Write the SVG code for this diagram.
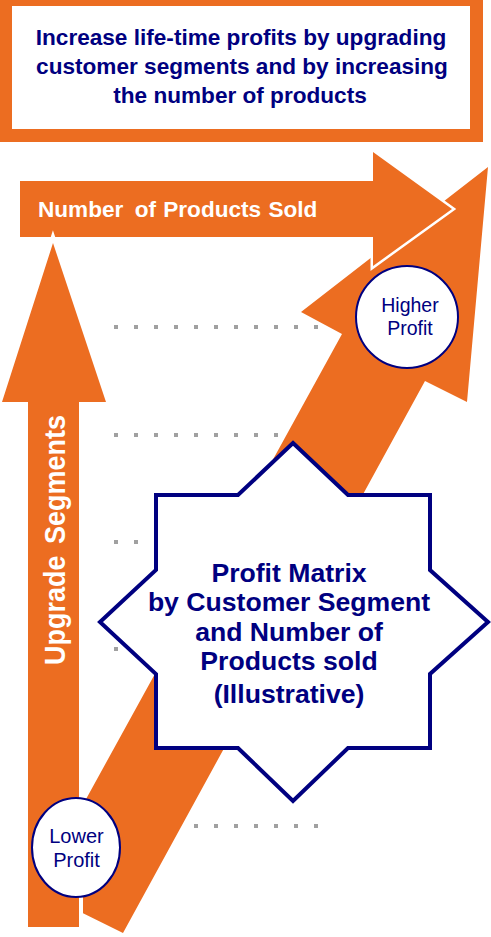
<svg xmlns="http://www.w3.org/2000/svg" width="491" height="937" viewBox="0 0 491 937">
<style>
.orange{fill:#EC6D21}
.arrow{fill:#EC6D21;stroke:#FFFFFF;paint-order:stroke;stroke-linejoin:miter}
.navyb{font-family:"Liberation Sans",Arial,sans-serif;font-weight:bold;fill:#000080;text-anchor:middle}
.navy{font-family:"Liberation Sans",Arial,sans-serif;fill:#000080;text-anchor:middle}
.whiteb{font-family:"Liberation Sans",Arial,sans-serif;font-weight:bold;fill:#FFFFFF}
.dots{stroke:#A0A0A0;stroke-width:4;stroke-dasharray:4 16;fill:none}
.bubble{fill:#FFFFFF;stroke:#000080;stroke-width:2}
</style>
<rect width="491" height="937" fill="#FFFFFF"/>
<g id="title">
<rect x="0" y="0" width="483" height="142" class="orange"/>
<rect x="12" y="6" width="458" height="123" fill="#FFFFFF"/>
<text class="navyb" font-size="22.6" x="241" y="45">Increase life-time profits by upgrading</text>
<text class="navyb" font-size="22.6" x="242" y="74">customer segments and by increasing</text>
<text class="navyb" font-size="22.6" x="240" y="103">the number of products</text>
</g>
<g id="gridlines">
<line class="dots" x1="114" y1="327" x2="318" y2="327"/>
<line class="dots" x1="114" y1="435" x2="318" y2="435"/>
<line class="dots" x1="114" y1="542" x2="318" y2="542"/>
<line class="dots" x1="114" y1="649" x2="318" y2="649"/>
<line class="dots" x1="114" y1="826" x2="318" y2="826"/>
</g>
<g id="profit-arrow">
<polygon class="orange" points="488,167 467,402 425,381 123,933 36,890 342,334 301,312"/>
</g>
<g id="products-arrow">
<polygon class="arrow" stroke-width="5" points="20,181 373,181 373,152 452,209 373,266 373,237 20,237"/>
<text class="whiteb" font-size="22.6" x="38" y="217" word-spacing="1">Number <tspan dx="4">of Products Sold</tspan></text>
</g>
<g id="segments-arrow">
<polygon class="arrow" stroke-width="8" points="53,243 106,402 79,402 79,927 28,927 28,402 2,402"/>
<text class="whiteb" font-size="27" text-anchor="middle" word-spacing="4" transform="translate(65,540) rotate(-90) scale(1,1.1)">Upgrade Segments</text>
</g>
<g id="profit-matrix">
<polygon fill="#FFFFFF" stroke="#000080" stroke-width="4" points="293,443 348,495 430,495 430,570 488,622 430,674 430,748 348,748 293,801 238,748 156,748 156,674 100,622 156,570 156,495 238,495"/>
<text class="navyb" font-size="26.6" x="289" y="582">Profit Matrix</text>
<text class="navyb" font-size="26.6" x="289" y="611">by Customer Segment</text>
<text class="navyb" font-size="26.6" x="289" y="641">and Number of</text>
<text class="navyb" font-size="26.6" x="289" y="670">Products sold</text>
<text class="navyb" font-size="26.6" x="289" y="703">(Illustrative)</text>
</g>
<g id="higher-profit">
<circle class="bubble" cx="407" cy="317" r="51"/>
<text class="navy" font-size="19.5" x="410" y="312">Higher</text>
<text class="navy" font-size="19.5" x="410" y="335">Profit</text>
</g>
<g id="lower-profit">
<ellipse class="bubble" cx="76" cy="847.5" rx="44" ry="49.5"/>
<text class="navy" font-size="20" x="76.5" y="843">Lower</text>
<text class="navy" font-size="20" x="76.5" y="867">Profit</text>
</g>
</svg>
